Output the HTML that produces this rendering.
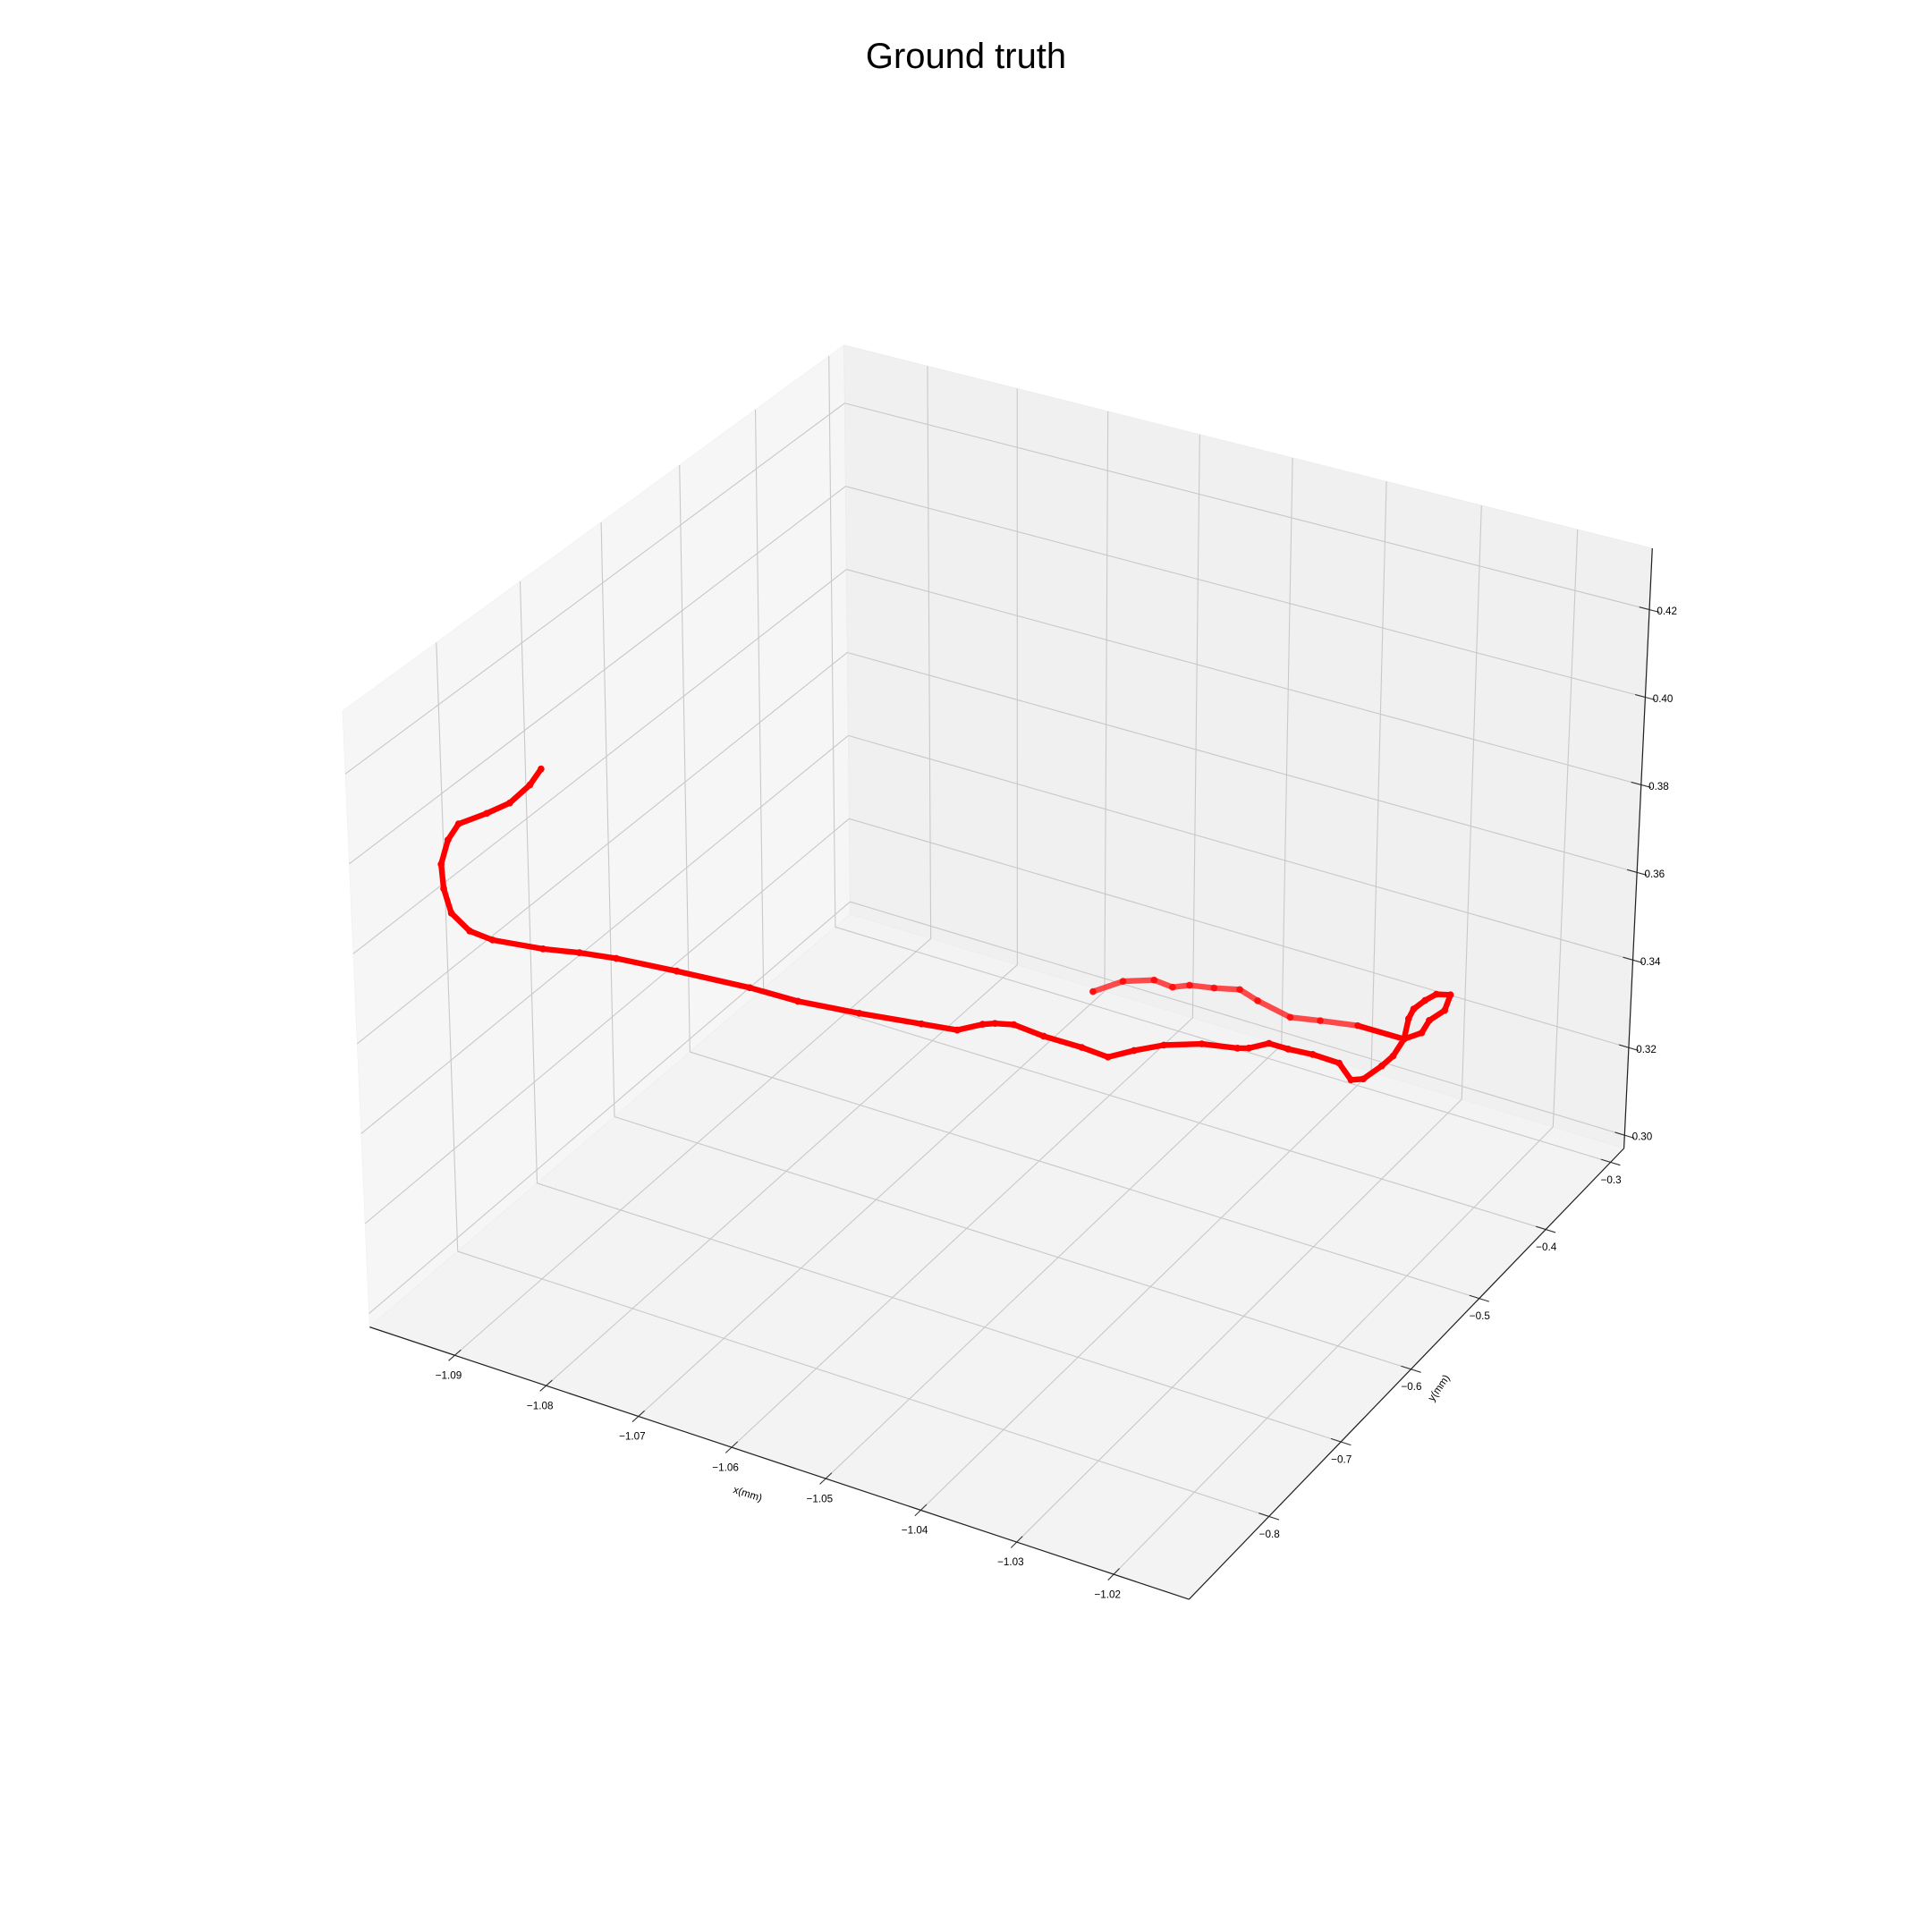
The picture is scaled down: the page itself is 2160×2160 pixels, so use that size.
<!DOCTYPE html>
<html><head><meta charset="utf-8"><title>Ground truth</title>
<style>html,body{margin:0;padding:0;background:#fff}svg{display:block}</style></head>
<body>
<svg id="chart" xmlns="http://www.w3.org/2000/svg" width="2160" height="2160" viewBox="0 0 1568 1568" font-family="Liberation Sans, DejaVu Sans, sans-serif">
<rect width="1568" height="1568" fill="#ffffff"/>
<text x="784" y="55" text-anchor="middle" font-size="29" fill="#000">Ground truth</text>
<g id="panes"></g><g id="grid"></g><g id="axes"></g><g id="series"></g>
</svg>
<script>
const xTicks=[-1.09,-1.08,-1.07,-1.06,-1.05,-1.04,-1.03,-1.02];
const yTicks=[-0.8,-0.7,-0.6,-0.5,-0.4,-0.3];
const zTicks=[0.30,0.32,0.34,0.36,0.38,0.40,0.42];
const xTickLabels=["\u22121.09","\u22121.08","\u22121.07","\u22121.06","\u22121.05","\u22121.04","\u22121.03","\u22121.02"];
const yTickLabels=["\u22120.8","\u22120.7","\u22120.6","\u22120.5","\u22120.4","\u22120.3"];
const zTickLabels=["0.30","0.32","0.34","0.36","0.38","0.40","0.42"];
const xs=[-1.0974,-1.0973,-1.0983,-1.1003,-1.1002,-1.1002,-1.1002,-1.1002,-1.1002,-1.1002,-1.1002,-1.0959,-1.0926,-1.0891,-1.0830,-1.0756,-1.0705,-1.0645,-1.0586,-1.0552,-1.0537,-1.0528,-1.0512,-1.0478,-1.0438,-1.0409,-1.0394,-1.0375,-1.0346,-1.0314,-1.0305,-1.0293,-1.0273,-1.0249,-1.0221,-1.0198,-1.0189,-1.0185,-1.0184,-1.0189,-1.0202,-1.0206,-1.0204,-1.0200,-1.0188,-1.0180,-1.0184,-1.0180,-1.0189,-1.0237,-1.0271,-1.0298,-1.0338,-1.0362,-1.0384,-1.0406,-1.0418,-1.0439,-1.0463,-1.0478];
const ys=[-0.703,-0.718,-0.732,-0.738,-0.773,-0.786,-0.795,-0.793,-0.785,-0.764,-0.737,-0.723,-0.715,-0.709,-0.703,-0.697,-0.696,-0.689,-0.680,-0.675,-0.660,-0.655,-0.650,-0.653,-0.653,-0.655,-0.639,-0.623,-0.609,-0.602,-0.598,-0.586,-0.586,-0.584,-0.585,-0.600,-0.595,-0.574,-0.559,-0.536,-0.511,-0.498,-0.484,-0.473,-0.469,-0.489,-0.506,-0.523,-0.536,-0.536,-0.543,-0.549,-0.541,-0.534,-0.541,-0.546,-0.554,-0.552,-0.564,-0.586];
const zs=[0.3929,0.3915,0.3888,0.3861,0.3888,0.3871,0.3829,0.3771,0.3704,0.3633,0.3573,0.3559,0.3559,0.3559,0.3559,0.3559,0.3559,0.3559,0.3559,0.3559,0.3559,0.3559,0.3559,0.3559,0.3559,0.3559,0.3559,0.3559,0.3559,0.3559,0.3559,0.3559,0.3559,0.3559,0.3559,0.3559,0.3559,0.3559,0.3559,0.3559,0.3559,0.3559,0.3559,0.3559,0.3559,0.3559,0.3559,0.3559,0.3559,0.3559,0.3559,0.3559,0.3559,0.3559,0.3559,0.3559,0.3559,0.3559,0.3559,0.3559];

const XMIN=-1.0994,XMAX=-1.0123,YMIN=-0.908,YMAX=-0.279,ZMIN=0.297,ZMAX=0.434;
const NS="http://www.w3.org/2000/svg";
const A=[300,1077],B=[965,1298],C=[1318,932],D=[690,742];
const At=[278,577],Bt=[987,778],Ct=[1341,445],Dt=[685,280];
function homog(P0,P1,P2,P3){
  const dx1=P1[0]-P2[0],dy1=P1[1]-P2[1],dx2=P3[0]-P2[0],dy2=P3[1]-P2[1];
  const dx3=P0[0]-P1[0]+P2[0]-P3[0],dy3=P0[1]-P1[1]+P2[1]-P3[1];
  const den=dx1*dy2-dy1*dx2;
  const g=(dx3*dy2-dy3*dx2)/den,h=(dx1*dy3-dy1*dx3)/den;
  const a=P1[0]-P0[0]+g*P1[0],b=P3[0]-P0[0]+h*P3[0],c=P0[0];
  const d=P1[1]-P0[1]+g*P1[1],e=P3[1]-P0[1]+h*P3[1],f=P0[1];
  return (u,v)=>{const q=g*u+h*v+1;return [(a*u+b*v+c)/q,(d*u+e*v+f)/q];};
}
const floorH=homog(A,B,C,D),topH=homog(At,Bt,Ct,Dt);
function proj(u,v,w){const b=floorH(u,v),t=topH(u,v);return [b[0]+(t[0]-b[0])*w,b[1]+(t[1]-b[1])*w];}
function xu(x){return (x-XMIN)/(XMAX-XMIN);}
function yv(y){return (y-YMIN)/(YMAX-YMIN);}
function zw(z){return (z-ZMIN)/(ZMAX-ZMIN);}
function mk(tag,attrs,parent){const e=document.createElementNS(NS,tag);for(const k in attrs)e.setAttribute(k,attrs[k]);parent.appendChild(e);return e;}
function pts(a){return a.map(p=>p[0].toFixed(1)+","+p[1].toFixed(1)).join(" ");}
function line(p,q,stroke,sw,parent){return mk("line",{x1:p[0],y1:p[1],x2:q[0],y2:q[1],stroke:stroke,"stroke-width":sw},parent);}

const panes=document.getElementById("panes"),grid=document.getElementById("grid"),axes=document.getElementById("axes"),series=document.getElementById("series");
let el;
el=mk("polygon",{points:pts([proj(0,0,0),proj(0,1,0),proj(0,1,1),proj(0,0,1)]),fill:"#f6f6f6",stroke:"#f0f0f0","stroke-width":0.5},panes);


el=mk("polygon",{points:pts([proj(0,1,0),proj(1,1,0),proj(1,1,1),proj(0,1,1)]),fill:"#f0f0f0",stroke:"#eaeaea","stroke-width":0.5},panes);


el=mk("polygon",{points:pts([proj(0,0,0),proj(1,0,0),proj(1,1,0),proj(0,1,0)]),fill:"#f3f3f3",stroke:"#ececec","stroke-width":0.5},panes);



const GC="#c8c8c8",GW=0.8;
xTicks.forEach((t,i)=>{const u=xu(t);
  el=line(proj(u,0,0),proj(u,1,0),GC,GW,grid);
  
  
  el=line(proj(u,1,0),proj(u,1,1),GC,GW,grid);
  
  
  el=line(proj(u,-0.012,0),proj(u,0.012,0),"#333",0.8,axes);
  
  
  const p=proj(u,0,0);
  el=mk("text",{x:p[0]-5,y:p[1]+19,"text-anchor":"middle","font-size":8.5,fill:"#000"},axes);el.textContent=xTickLabels[i];
  
  
});
yTicks.forEach((t,i)=>{const v=yv(t);
  el=line(proj(0,v,0),proj(1,v,0),GC,GW,grid);
  
  
  el=line(proj(0,v,0),proj(0,v,1),GC,GW,grid);
  
  
  el=line(proj(0.988,v,0),proj(1.012,v,0),"#333",0.8,axes);
  
  
  const p=proj(1,v,0);
  el=mk("text",{x:p[0]-8,y:p[1]+17,"text-anchor":"start","font-size":8.5,fill:"#000"},axes);el.textContent=yTickLabels[i];
  
  
});
zTicks.forEach((t,i)=>{const w=zw(t);
  el=line(proj(0,0,w),proj(0,1,w),GC,GW,grid);
  
  
  el=line(proj(0,1,w),proj(1,1,w),GC,GW,grid);
  
  
  el=line(proj(0.988,1,w),proj(1.012,1,w),"#333",0.8,axes);
  
  
  const p=proj(1,1,w);
  el=mk("text",{x:p[0]+6,y:p[1]+4,"text-anchor":"start","font-size":8.5,fill:"#000"},axes);el.textContent=zTickLabels[i];
  
  
});
el=line(proj(0,0,0),proj(1,0,0),"#222",0.9,axes);


el=line(proj(1,0,0),proj(1,1,0),"#222",0.9,axes);


el=line(proj(1,1,0),proj(1,1,1),"#222",0.9,axes);


el=mk("text",{x:606,y:1215,"text-anchor":"middle","font-size":8.5,fill:"#000",transform:"rotate(18 606 1215)"},axes);el.textContent="x(mm)";


el=mk("text",{x:1170,y:1128,"text-anchor":"middle","font-size":8.5,fill:"#000",transform:"rotate(-55 1170 1128)"},axes);el.textContent="y(mm)";



const P=xs.map((x,i)=>proj(xu(x),yv(ys[i]),zw(zs[i])));
el=mk("polyline",{points:pts(P.slice(0,50)),fill:"none",stroke:"#ff0000","stroke-width":4.6,"stroke-linejoin":"round","stroke-linecap":"round"},series);


el=mk("polyline",{points:pts(P.slice(49)),fill:"none",stroke:"#ff2020","stroke-width":4.6,"stroke-linejoin":"round","stroke-linecap":"round","stroke-opacity":0.8},series);


P.forEach((p,i)=>{
  el=mk("circle",{cx:p[0].toFixed(1),cy:p[1].toFixed(1),r:2.8,fill:"#ff0000","fill-opacity":i>=49?0.8:1},series);
  
  
});
</script>
</body></html>
